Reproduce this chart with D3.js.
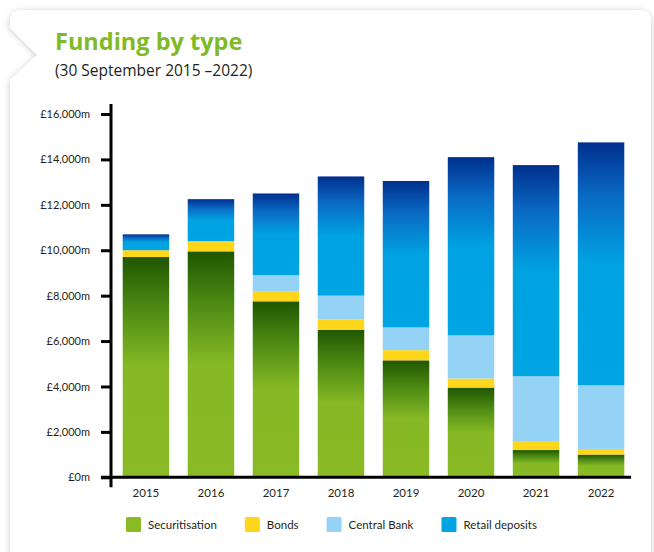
<!DOCTYPE html>
<html>
<head>
<meta charset="utf-8">
<script src="https://cdn.jsdelivr.net/npm/d3@7"></script>
<style>
  html, body { margin: 0; padding: 0; background: #ffffff; }
  svg { display: block; }
</style>
</head>
<body>
<svg id="chart" width="654" height="552"></svg>
<script>
// Funding mix by year (£m), stacked bottom to top
const years = ["2015", "2016", "2017", "2018", "2019", "2020", "2021", "2022"];
const securitisation = [9700, 9950, 7750, 6500, 5150, 3950, 1200, 1000];
const bonds = [300, 450, 450, 450, 450, 400, 400, 250];
const centralBank = [0, 0, 700, 1050, 1000, 1900, 2850, 2800];
const retailDeposits = [700, 1850, 3600, 5250, 6450, 7850, 9300, 10700];

const seriesNames = ["Securitisation", "Bonds", "Central Bank", "Retail deposits"];
const seriesKeys = ["securitisation", "bonds", "centralBank", "retailDeposits"];
const yTicks = [0, 2000, 4000, 6000, 8000, 10000, 12000, 14000, 16000];

const rows = years.map((year, i) => ({
  year,
  securitisation: securitisation[i],
  bonds: bonds[i],
  centralBank: centralBank[i],
  retailDeposits: retailDeposits[i]
}));

const svg = d3.select("#chart");
const defs = svg.append("defs");

// Card shadow
const shadow = defs.append("filter").attr("id", "cardShadow")
  .attr("x", "-10%").attr("y", "-10%").attr("width", "120%").attr("height", "120%");
shadow.append("feDropShadow")
  .attr("dx", 0).attr("dy", 1).attr("stdDeviation", 3.2)
  .attr("flood-color", "#000").attr("flood-opacity", 0.22);

// Vertical gradients for the shaded segments
function vGradient(id, stops) {
  const g = defs.append("linearGradient").attr("id", id)
    .attr("x1", 0).attr("y1", 0).attr("x2", 0).attr("y2", 1);
  stops.forEach(([o, c]) => g.append("stop").attr("offset", o).attr("stop-color", c));
}
vGradient("gradSec", [[0, "#1f5600"], [0.22, "#4a8812"], [0.5, "#86b925"], [1, "#8aba26"]]);
vGradient("gradRetail", [[0, "#002f8e"], [0.22, "#0a6ac4"], [0.5, "#00a2e1"], [1, "#00a5e3"]]);

const fills = {
  securitisation: "url(#gradSec)",
  bonds: "#ffd619",
  centralBank: "#94d3f5",
  retailDeposits: "url(#gradRetail)"
};
const swatchColors = ["#8aba26", "#ffd619", "#94d3f5", "#00a4e2"];

// Card with a notch on its left edge
svg.append("path")
  .attr("d", "M10,22 Q10,10 22,10 L639,10 Q651,10 651,22 L651,580 L10,580 L10,80 L37,55 L10,28 Z")
  .attr("fill", "#ffffff")
  .attr("filter", "url(#cardShadow)");

// Titles
svg.append("text")
  .attr("x", 55).attr("y", 49.5)
  .attr("font-family", "'Open Sans', sans-serif")
  .attr("font-weight", 700)
  .attr("font-size", 23.5)
  .attr("fill", "#80ba27")
  .text("Funding by type");

svg.append("text")
  .attr("x", 55).attr("y", 76)
  .attr("font-family", "'Open Sans', sans-serif")
  .attr("font-size", 15.5)
  .attr("fill", "#231f20")
  .text("(30 September 2015 \u20132022)");

// Scales
const axisX = 111;
const x = d3.scaleBand().domain(years).range([axisX, 636])
  .paddingInner(0.285).paddingOuter(0.18);
const y = d3.scaleLinear().domain([0, 16000]).range([477.3, 114]);

// Stacked bars
const stack = d3.stack().keys(seriesKeys)(rows);
const plot = svg.append("g");
stack.forEach(layer => {
  plot.append("g")
    .selectAll("rect")
    .data(layer.filter(d => d[1] > d[0]))
    .join("rect")
    .attr("x", d => x(d.data.year))
    .attr("width", x.bandwidth())
    .attr("y", d => y(d[1]))
    .attr("height", d => y(d[0]) - y(d[1]))
    .attr("fill", fills[layer.key]);
});

const axisFont = "Lato, 'Open Sans', sans-serif";

// Y axis
const yAxis = svg.append("g")
  .attr("transform", `translate(${axisX},0)`)
  .call(d3.axisLeft(y).tickValues(yTicks).tickSize(10).tickSizeOuter(0).tickPadding(11)
    .tickFormat(d => "£" + d3.format(",")(d) + "m"));
yAxis.select(".domain").remove();
yAxis.selectAll(".tick line").attr("stroke", "#000").attr("stroke-width", 3);
yAxis.selectAll(".tick text")
  .attr("font-family", axisFont).attr("font-size", 11).attr("fill", "#231f20");

// X axis
const xAxis = svg.append("g")
  .attr("transform", `translate(0,${y(0)})`)
  .call(d3.axisBottom(x).tickSize(0).tickPadding(12));
xAxis.select(".domain").remove();
xAxis.selectAll(".tick text")
  .attr("font-family", axisFont).attr("font-size", 11.5).attr("fill", "#231f20");

// Axis lines
svg.append("line")
  .attr("x1", axisX).attr("x2", axisX)
  .attr("y1", y.range()[1] - 10).attr("y2", y(0) + 10)
  .attr("stroke", "#000").attr("stroke-width", 3);
svg.append("line")
  .attr("x1", axisX - 10).attr("x2", 631)
  .attr("y1", y(0)).attr("y2", y(0))
  .attr("stroke", "#000").attr("stroke-width", 3);

// Legend
const legend = svg.append("g").attr("transform", "translate(126,517)");
let lx = 0;
seriesNames.forEach((name, i) => {
  const g = legend.append("g").attr("transform", `translate(${lx},0)`);
  g.append("rect").attr("width", 15).attr("height", 15).attr("rx", 1.5)
    .attr("fill", swatchColors[i]);
  const t = g.append("text")
    .attr("x", 22).attr("y", 11.5)
    .attr("font-family", axisFont).attr("font-size", 11.5).attr("fill", "#231f20")
    .text(name);
  lx += 22 + t.node().getComputedTextLength() + 28;
});
</script>
</body>
</html>
